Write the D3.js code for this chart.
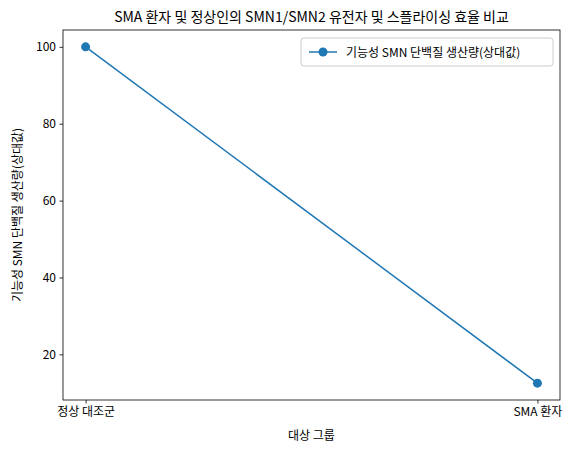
<!DOCTYPE html>
<html><head><meta charset="utf-8">
<script src="https://cdn.jsdelivr.net/npm/d3@7"></script>
<style>body{margin:0;background:#fff}text{font-family:"Noto Sans CJK KR","Noto Sans",sans-serif;fill:#000}</style>
</head><body><svg id="c" width="575" height="454"></svg>
<script>
const categories = ["정상 대조군", "SMA 환자"];
const values = [100, 12.5];
const yTicks = [20, 40, 60, 80, 100];
const title = "SMA 환자 및 정상인의 SMN1/SMN2 유전자 및 스플라이싱 효율 비교";
const xLabel = "대상 그룹";
const yLabel = "기능성 SMN 단백질 생산량(상대값)";
const seriesName = "기능성 SMN 단백질 생산량(상대값)";

const svg = d3.select("#c");
const L = 63, R = 560, T = 30, B = 400;
const color = "#1f77b4";
const lo = d3.min(values), hi = d3.max(values), pad = (hi - lo) * 0.05;
const x = d3.scaleLinear().domain([-0.05, 1.05]).range([L, R]);
const y = d3.scaleLinear().domain([lo - pad, hi + pad]).range([B, T]);

const xa = svg.append("g").attr("transform", `translate(0,${B})`)
  .call(d3.axisBottom(x).tickValues([0, 1]).tickFormat(i => categories[i]).tickSize(3.5).tickPadding(3.5));
const ya = svg.append("g").attr("transform", `translate(${L},0)`)
  .call(d3.axisLeft(y).tickValues(yTicks).tickSize(3.5).tickPadding(3.5));
[xa, ya].forEach(a => { a.select(".domain").remove(); a.selectAll("text").attr("font-size", 12).style("font-family", '"Noto Sans CJK KR"'); a.selectAll("line").attr("stroke", "#000").attr("stroke-width", 0.8); });
svg.append("rect").attr("x", L).attr("y", T).attr("width", R - L).attr("height", B - T)
  .attr("fill", "none").attr("stroke", "#000").attr("stroke-width", 0.8);

svg.append("path").datum(values)
  .attr("d", d3.line().x((d, i) => x(i)).y(d => y(d)))
  .attr("fill", "none").attr("stroke", color).attr("stroke-width", 1.5);
svg.selectAll("circle.p").data(values).join("circle").attr("class", "p")
  .attr("cx", (d, i) => x(i)).attr("cy", d => y(d)).attr("r", 4.5).attr("fill", color);

svg.append("text").attr("x", (L + R) / 2).attr("y", T - 8).attr("text-anchor", "middle").attr("font-size", 14).text(title);
svg.append("text").attr("x", (L + R) / 2).attr("y", 440).attr("text-anchor", "middle").attr("font-size", 12).text(xLabel);
svg.append("text").attr("transform", `translate(22,${(T + B) / 2}) rotate(-90)`).attr("text-anchor", "middle").attr("font-size", 12).text(yLabel);

const lg = svg.append("g").attr("transform", "translate(301,38)");
lg.append("rect").attr("width", 252).attr("height", 28).attr("rx", 3).attr("fill", "#fff").attr("stroke", "#ccc");
lg.append("line").attr("x1", 8).attr("x2", 36).attr("y1", 14).attr("y2", 14).attr("stroke", color).attr("stroke-width", 1.5);
lg.append("circle").attr("cx", 22).attr("cy", 14).attr("r", 4.5).attr("fill", color);
lg.append("text").attr("x", 45).attr("y", 19).attr("font-size", 12).text(seriesName);
</script></body></html>
